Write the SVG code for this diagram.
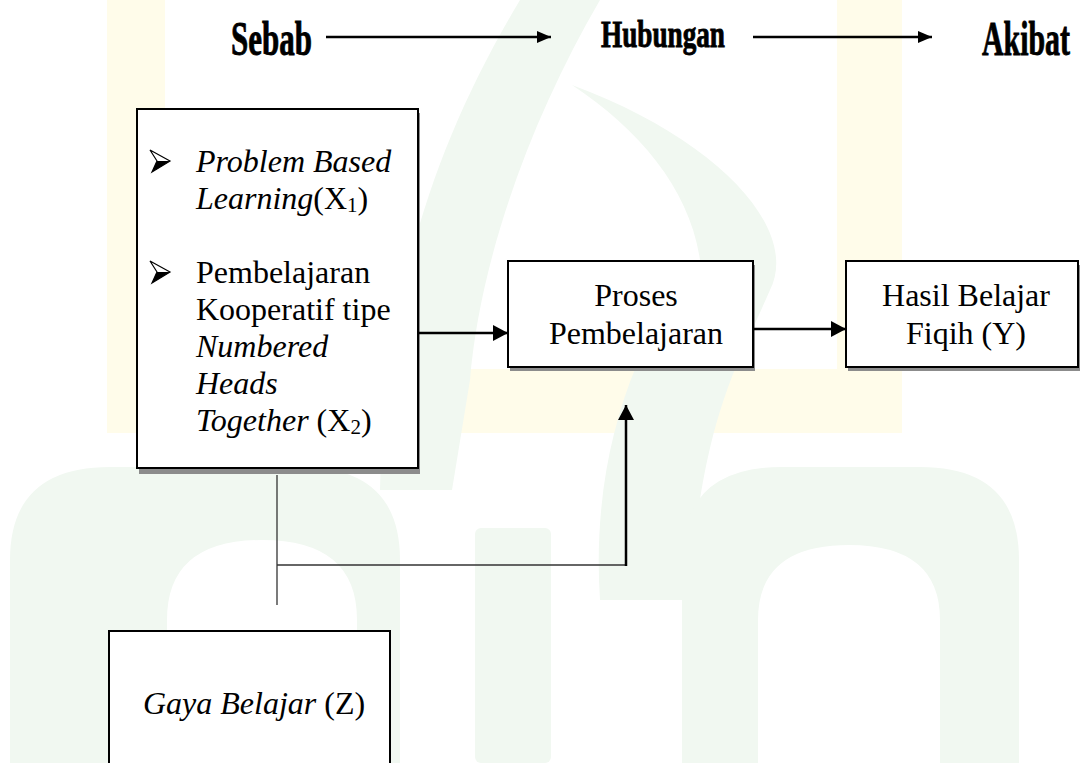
<svg xmlns="http://www.w3.org/2000/svg" width="1080" height="763" viewBox="0 0 1080 763">
<defs>
<style>
.t{font-family:"Liberation Serif","Times New Roman",serif;font-size:32px;fill:#000}
.i{font-style:italic}
.hd{font-family:"Liberation Serif","Times New Roman",serif;font-weight:bold;fill:#000;stroke:#000;stroke-width:0.9}
.box{fill:#fff;stroke:#000;stroke-width:2}
.sh{fill:#8c8c8c}
.wg{fill:#f1f8f1}
.wy{fill:#fffcea}
.thin{fill:none;stroke:#333;stroke-width:1.3}
.thick{fill:none;stroke:#000;stroke-width:2.5}
</style>
<marker id="ah" viewBox="0 0 15 16" refX="15" refY="8" markerWidth="15" markerHeight="16" markerUnits="userSpaceOnUse" orient="auto">
<path d="M0,0 L15,8 L0,16 Z" fill="#000"/>
</marker>
<marker id="ahs" viewBox="0 0 14 12" refX="14" refY="6" markerWidth="14" markerHeight="12" markerUnits="userSpaceOnUse" orient="auto">
<path d="M0,0 L14,6 L0,12 Z" fill="#000"/>
</marker>
</defs>
<rect width="1080" height="763" fill="#fff"/>
<g id="watermark">
<path class="wy" fill-rule="evenodd" d="M107,0 H902 V433 H107 Z M165,0 V369 H837 V0 Z"/>
<path class="wg" d="M380,490 C385,300 430,150 520,0 L600,0 C530,120 480,260 470,380 L452,490 Z"/>
<path class="wg" d="M572,85 C720,140 800,230 770,290 C740,360 700,420 690,600 L600,600 C590,450 640,330 700,260 C690,190 640,130 572,85 Z"/>
<rect class="wg" x="475" y="528" width="76" height="235" rx="6"/>
<path class="wg" fill-rule="evenodd" d="M10,763 V560 Q10,467 110,467 H300 Q400,467 400,560 V763 Z M167,763 V620 Q167,540 262,540 Q357,540 357,620 V763 Z"/>
<path class="wg" fill-rule="evenodd" d="M682,763 V560 Q682,467 782,467 H920 Q1019,467 1019,560 V763 Z M758,763 V620 Q758,545 849,545 Q940,545 940,620 V763 Z"/>
</g>
<g id="header">
<text class="hd" x="231" y="55" font-size="48" textLength="81" lengthAdjust="spacingAndGlyphs">Sebab</text>
<text class="hd" x="601" y="47" font-size="38" textLength="124" lengthAdjust="spacingAndGlyphs">Hubungan</text>
<text class="hd" x="982" y="55" font-size="48" textLength="88" lengthAdjust="spacingAndGlyphs">Akibat</text>
</g>
<g id="node-x">
<rect class="sh" x="139" y="113" width="281" height="361"/>
<rect class="box" x="137" y="109" width="281" height="359"/>
<path d="M150,150 L170,161 L152,172 L157,161 Z" fill="#fff" stroke="#000" stroke-width="1.2" stroke-linejoin="miter"/>
<path d="M157,161 L170,161 L152,172 Z" fill="#000"/>
<path d="M150,261 L170,272 L152,283 L157,272 Z" fill="#fff" stroke="#000" stroke-width="1.2" stroke-linejoin="miter"/>
<path d="M157,272 L170,272 L152,283 Z" fill="#000"/>
<text class="t i" x="196" y="172">Problem Based</text>
<text class="t" x="196" y="209"><tspan class="i">Learning</tspan>(X<tspan font-size="21" dy="3">1</tspan><tspan dy="-3">)</tspan></text>
<text class="t" x="196" y="283">Pembelajaran</text>
<text class="t" x="196" y="320">Kooperatif tipe</text>
<text class="t i" x="196" y="357">Numbered</text>
<text class="t i" x="196" y="394">Heads</text>
<text class="t" x="196" y="431"><tspan class="i">Together</tspan> (X<tspan font-size="21" dy="3">2</tspan><tspan dy="-3">)</tspan></text>
</g>
<g id="node-proses">
<rect class="sh" x="510" y="265" width="245" height="106"/>
<rect class="box" x="508" y="261" width="245" height="106"/>
<text class="t" x="636" y="306" text-anchor="middle">Proses</text>
<text class="t" x="636" y="344" text-anchor="middle">Pembelajaran</text>
</g>
<g id="node-hasil">
<rect class="sh" x="848" y="265" width="232" height="106"/>
<rect class="box" x="846" y="261" width="232" height="106"/>
<text class="t" x="966" y="306" text-anchor="middle">Hasil Belajar</text>
<text class="t" x="966" y="344" text-anchor="middle">Fiqih (Y)</text>
</g>
<g id="node-gaya">
<rect class="box" x="109" y="631" width="281" height="140"/>
<text class="t" x="143" y="714"><tspan class="i">Gaya Belajar</tspan> (Z)</text>
</g>
<g id="connectors">
<line class="thick" x1="326" y1="37" x2="551" y2="37" stroke-width="2.4" marker-end="url(#ahs)"/>
<line class="thick" x1="753" y1="37" x2="932" y2="37" stroke-width="2.4" marker-end="url(#ahs)"/>
<line class="thick" x1="419" y1="333" x2="508" y2="333" marker-end="url(#ah)"/>
<line class="thick" x1="754" y1="329" x2="846" y2="329" marker-end="url(#ah)"/>
<line class="thin" x1="277" y1="475" x2="277" y2="605"/>
<line class="thin" x1="277" y1="565" x2="627" y2="565"/>
<line class="thick" x1="626" y1="566" x2="626" y2="405" stroke-width="2.2" marker-end="url(#ah)"/>
</g>
</svg>
